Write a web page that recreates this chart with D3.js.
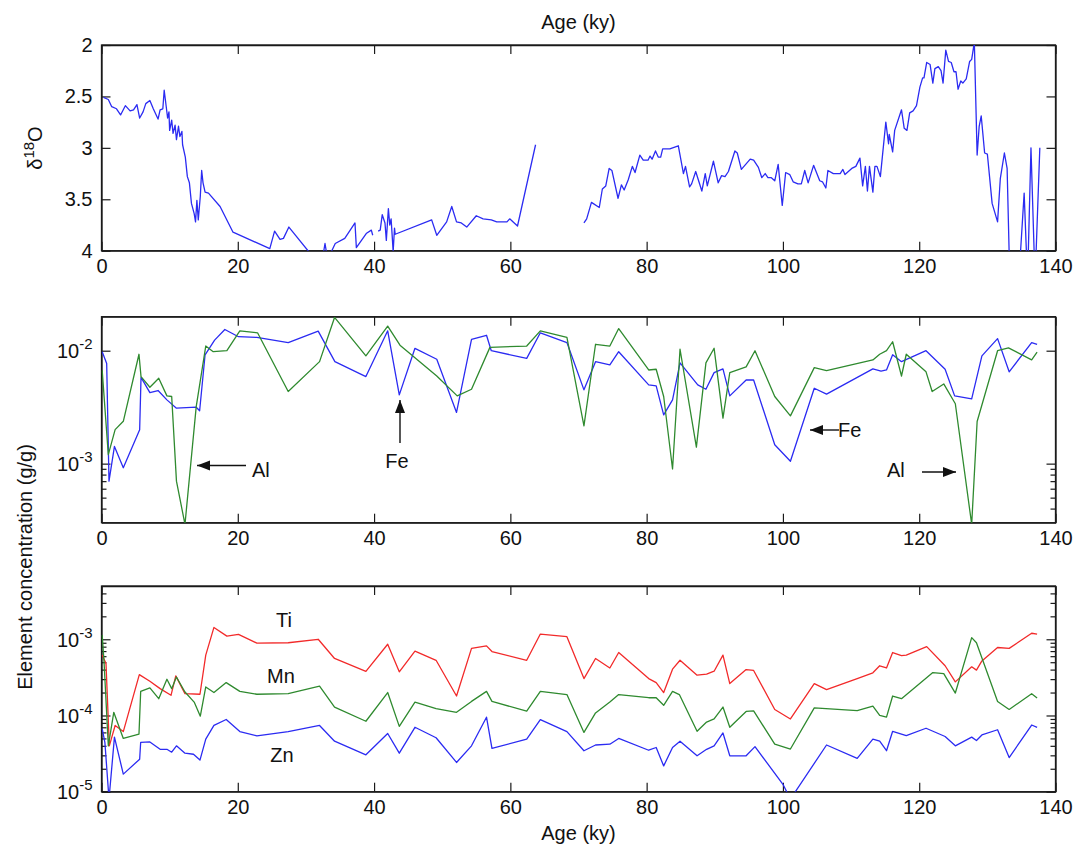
<!DOCTYPE html>
<html><head><meta charset="utf-8">
<script src="https://cdn.jsdelivr.net/npm/d3@7"></script>
<style>body{margin:0;background:#fff} text{font-family:"Liberation Sans",Arial,sans-serif}</style>
</head><body><svg id="c" width="1074" height="849"></svg>
<script>
// ---------- DATA ----------
const xTicks = [0, 20, 40, 60, 80, 100, 120, 140];
const d18OTicks = [2, 2.5, 3, 3.5, 4];
const midMajor = [1e-2, 1e-3];
const botMajor = [1e-3, 1e-4, 1e-5];

// delta 18O vs age (ky); null = gap
const d18O = [
[0.3,2.51],[1.0,2.53],[1.5,2.60],[2.2,2.62],[2.8,2.68],[3.5,2.59],[4.2,2.64],[4.7,2.63],[5.2,2.58],[5.6,2.71],
[6.1,2.65],[6.5,2.57],[7.1,2.54],[7.6,2.62],[8.3,2.72],[8.6,2.63],[9.0,2.62],[9.2,2.44],[9.5,2.60],[9.7,2.71],
[9.9,2.65],[10.0,2.83],[10.3,2.73],[10.5,2.86],[10.8,2.78],[11.0,2.92],[11.3,2.79],[11.5,2.89],[11.8,2.84],[11.9,2.97],
[12.3,3.09],[12.6,3.28],[12.9,3.34],[13.2,3.54],[13.6,3.64],[13.8,3.72],[14.0,3.51],[14.2,3.70],[14.5,3.47],[14.7,3.22],
[14.9,3.34],[15.2,3.43],[15.7,3.44],[17.4,3.57],[19.3,3.82],[24.7,3.98],[25.4,3.81],[26.2,3.89],[26.7,3.88],[27.5,3.77],
[30.3,4.0],[31.5,4.1],[32.5,4.05],[32.8,3.93],[33.1,4.05],[33.8,4.0],[34.3,3.93],[35.7,3.88],[37.2,3.73],[37.4,3.97],
[38.9,3.83],[39.6,3.80],[39.8,3.85],[40.2,null],[40.6,3.81],[40.9,3.80],[41.2,3.65],[41.6,3.73],[41.8,3.90],[42.1,3.59],
[42.3,3.75],[42.5,3.69],[42.7,3.90],[42.8,4.01],[43.0,3.78],[43.1,3.84],[48.45,3.70],[49.2,3.85],[50.65,3.72],[51.4,3.57],
[52.1,3.72],[52.8,3.73],[53.6,3.77],[55.0,3.66],[56.0,3.69],[57.2,3.70],[58.0,3.72],[59.5,3.72],[59.9,3.69],[61.05,3.76],
[63.7,2.97],[67.0,null],
[70.8,3.73],[71.2,3.69],[71.9,3.53],[73.05,3.58],[73.5,3.40],[74.0,3.37],[74.5,3.20],[74.9,3.22],[75.8,3.49],[76.3,3.36],
[76.7,3.41],[77.3,3.31],[77.9,3.18],[78.3,3.24],[79.0,3.07],[79.5,3.12],[80.2,3.12],[80.5,3.08],[80.8,3.11],[81.3,3.03],
[81.7,3.09],[82.06,3.09],[82.35,3.01],[83.4,3.01],[84.65,2.98],[85.4,3.25],[85.7,3.18],[86.3,3.38],[86.6,3.35],[87.2,3.23],
[88.1,3.42],[88.6,3.25],[88.9,3.37],[89.8,3.13],[90.5,3.34],[91.0,3.27],[91.5,3.28],[92.0,3.23],[92.95,3.03],[93.3,3.05],
[93.9,3.21],[95.2,3.11],[95.7,3.12],[96.4,3.19],[96.9,3.29],[97.4,3.25],[97.8,3.29],[98.3,3.29],[98.8,3.32],[99.3,3.16],
[99.9,3.56],[100.4,3.24],[101.0,3.26],[101.5,3.33],[102.2,3.35],[102.7,3.35],[103.2,3.22],[103.7,3.34],[104.5,3.17],[105.4,3.32],
[105.8,3.33],[106.3,3.39],[106.6,3.22],[107.4,3.25],[108.4,3.25],[108.8,3.21],[109.1,3.26],[110.1,3.20],[110.7,3.18],[111.3,3.10],
[111.7,3.37],[112.1,3.18],[112.4,3.42],[112.7,3.18],[113.2,3.43],[113.5,3.18],[113.8,3.18],[114.3,3.28],[115.1,2.75],[115.5,2.96],
[115.6,2.87],[116.1,3.04],[116.4,2.83],[117.4,2.63],[117.8,2.81],[118.2,2.83],[118.6,2.66],[119.1,2.64],[119.6,2.59],[120.1,2.41],
[120.5,2.32],[120.7,2.32],[121.1,2.17],[121.6,2.19],[122.0,2.37],[122.3,2.23],[122.8,2.21],[123.2,2.25],[123.5,2.37],[123.9,2.05],
[124.3,2.16],[124.7,2.17],[125.1,2.26],[125.4,2.26],[125.7,2.43],[126.1,2.35],[126.4,2.37],[126.9,2.33],[127.4,2.16],[127.7,2.14],
[128.0,2.01],[128.1,2.0],[128.5,3.07],[128.8,2.79],[129.1,2.69],[129.6,3.05],[130.0,3.06],[130.7,3.54],[131.5,3.72],[131.9,3.30],
[132.5,3.05],[132.9,3.20],[133.3,4.3],[134.6,4.3],[135.4,3.44],[135.9,4.3],[136.4,3.0],[137.0,4.3],[137.7,3.0]
];

// Fe (blue) and Al (green), g/g
const fe = [
[0.1,9.8e-3],[0.76,7.7e-3],[1.1,7.0e-4],[1.9,1.42e-3],[3.2,9.2e-4],[5.6,2.0e-3],[5.8,5.8e-3],[7.1,4.26e-3],[8.3,4.44e-3],[9.6,3.67e-3],
[11.0,3.1e-3],[13.9,3.16e-3],[14.4,2.94e-3],[15.2,9.2e-3],[16.6,1.24e-2],[18.1,1.54e-2],[20.1,1.33e-2],[22.8,1.31e-2],[27.4,1.18e-2],[31.8,1.49e-2],
[34.25,8.0e-3],[38.8,5.9e-3],[42.0,1.5e-2],[43.7,4.06e-3],[46.0,1.05e-2],[49.2,8.4e-3],[52.1,2.84e-3],[54.3,1.26e-2],[56.5,1.37e-2],[57.2,1.0e-2],
[62.4,8.55e-3],[64.4,1.44e-2],[68.3,1.18e-2],[70.8,4.5e-3],[72.5,8.0e-3],[74.6,7.5e-3],[75.9,9.8e-3],[80.3,4.98e-3],[81.4,4.88e-3],[82.5,2.7e-3],
[83.8,3.67e-3],[84.9,7.8e-3],[87.5,4.98e-3],[88.7,4.56e-3],[89.9,6.4e-3],[91.2,6.9e-3],[92.2,3.98e-3],[94.6,5.5e-3],[95.7,5.5e-3],[98.8,1.47e-3],
[101.1,1.05e-3],[104.6,4.65e-3],[106.4,4.12e-3],[113.2,6.9e-3],[114.4,6.6e-3],[115.2,6.75e-3],[116.1,9.2e-3],[117.4,8.0e-3],[121.0,1.0e-2],[123.8,6.85e-3],
[125.2,3.98e-3],[127.7,3.75e-3],[129.2,9.0e-3],[131.5,1.28e-2],[133.2,6.5e-3],[136.5,1.18e-2],[137.3,1.14e-2]
];
const al = [
[0.1,6.7e-3],[1.0,1.2e-3],[2.0,2.0e-3],[3.2,2.37e-3],[5.5,9.3e-3],[5.8,5.9e-3],[7.1,4.75e-3],[8.4,5.7e-3],[9.6,3.98e-3],[10.3,3.93e-3],
[11.0,7.0e-4],[12.25,2.9e-4],[13.9,3.2e-3],[15.3,1.1e-2],[16.4,9.8e-3],[18.4,1.0e-2],[20.3,1.5e-2],[22.9,1.44e-2],[27.4,4.35e-3],[32.0,8.0e-3],
[34.2,1.97e-2],[38.8,9.0e-3],[42.0,1.65e-2],[43.8,1.12e-2],[46.7,8.0e-3],[49.2,5.97e-3],[52.2,3.98e-3],[54.3,4.56e-3],[57.0,1.07e-2],[62.4,1.1e-2],
[64.4,1.5e-2],[68.3,1.31e-2],[70.8,2.16e-3],[72.5,1.14e-2],[74.6,1.1e-2],[75.9,1.57e-2],[80.3,6.75e-3],[81.4,6.85e-3],[82.5,3.93e-3],[83.8,8.97e-4],
[84.9,1.03e-2],[87.3,1.4e-3],[88.7,7.8e-3],[89.9,1.05e-2],[91.2,2.53e-3],[92.2,6.4e-3],[94.6,7.2e-3],[95.9,1.0e-2],[98.8,3.93e-3],[101.1,2.65e-3],
[104.6,7.08e-3],[106.4,6.67e-3],[113.2,8.28e-3],[114.2,9.3e-3],[115.2,1.0e-2],[116.1,1.2e-2],[117.4,5.97e-3],[118.1,9.3e-3],[121.0,6.5e-3],[121.9,4.35e-3],
[123.6,5.08e-3],[125.3,3.39e-3],[127.7,2.9e-4],[128.5,2.36e-3],[131.5,1.0e-2],[133.1,1.06e-2],[136.5,8.3e-3],[137.3,9.7e-3]
];

// Ti (red), Mn (green), Zn (blue), g/g
const ti = [
[0.1,6.2e-4],[0.66,4.8e-4],[1.15,4.0e-5],[2.0,7.4e-5],[3.2,6.15e-5],[5.55,3.44e-4],[7.1,2.81e-4],[8.6,2.25e-4],[10.2,1.84e-4],[10.9,3.31e-4],
[12.25,1.93e-4],[14.45,1.9e-4],[15.3,6.2e-4],[16.5,1.43e-3],[18.4,1.1e-3],[20.1,1.16e-3],[22.8,8.9e-4],[27.4,9.0e-4],[31.8,1.0e-3],[34.2,5.6e-4],
[38.8,3.8e-4],[42.0,8.6e-4],[43.7,3.74e-4],[46.0,7.0e-4],[49.1,5.3e-4],[52.1,1.8e-4],[54.3,7.6e-4],[56.5,8.2e-4],[57.3,6.9e-4],[62.4,5.3e-4],
[64.4,1.17e-3],[68.3,1.08e-3],[70.8,3.05e-4],[72.5,5.6e-4],[74.6,4.2e-4],[75.9,6.7e-4],[80.3,3.05e-4],[81.4,2.7e-4],[82.5,2.0e-4],[83.8,4.05e-4],
[84.9,5.3e-4],[87.4,3.38e-4],[88.8,3.48e-4],[89.9,3.81e-4],[91.2,6.2e-4],[92.2,2.62e-4],[94.6,4.0e-4],[95.7,3.9e-4],[98.8,1.2e-4],[101.1,9.0e-5],
[104.6,2.62e-4],[106.4,2.18e-4],[110.9,3.05e-4],[113.2,3.63e-4],[114.2,4.49e-4],[115.2,4.2e-4],[116.1,6.7e-4],[117.4,6.1e-4],[118.1,6.2e-4],[121.1,8.0e-4],
[123.8,4.49e-4],[125.3,2.76e-4],[127.7,4.35e-4],[128.4,3.94e-4],[129.2,5.2e-4],[131.5,7.8e-4],[133.2,7.6e-4],[136.5,1.2e-3],[137.3,1.17e-3]
];
const mn = [
[0.1,1.14e-3],[0.37,5.1e-4],[1.0,4.0e-5],[1.8,1.1e-4],[3.2,5.0e-5],[5.5,5.7e-5],[5.75,2.07e-4],[7.1,2.3e-4],[8.4,1.66e-4],[9.6,2.99e-4],
[10.3,2.25e-4],[11.0,3.2e-4],[12.25,2.03e-4],[13.6,1.5e-4],[14.5,9.8e-5],[15.3,2.37e-4],[16.5,2.0e-4],[18.3,2.7e-4],[20.3,2.07e-4],[22.8,1.9e-4],
[27.4,1.93e-4],[32.0,2.42e-4],[34.2,1.29e-4],[38.8,8.4e-5],[42.0,2.0e-4],[43.7,7.2e-5],[46.0,1.5e-4],[49.1,1.23e-4],[52.1,1.1e-4],[54.3,1.53e-4],
[56.5,2.07e-4],[57.3,1.53e-4],[62.4,1.14e-4],[64.4,2.07e-4],[68.3,1.88e-4],[70.8,6.0e-5],[72.5,1.08e-4],[74.6,1.5e-4],[75.9,1.88e-4],[80.3,1.71e-4],
[81.4,1.71e-4],[82.5,1.36e-4],[83.8,2.07e-4],[84.8,1.88e-4],[87.4,6.2e-5],[88.8,8.2e-5],[89.9,9.0e-5],[91.2,1.29e-4],[92.2,7.0e-5],[94.6,1.13e-4],
[95.7,1.15e-4],[98.8,4.2e-5],[101.1,3.63e-5],[104.6,1.26e-4],[110.9,1.16e-4],[113.2,1.33e-4],[114.2,1.0e-4],[115.2,9.5e-5],[116.1,1.8e-4],[117.4,1.66e-4],
[122.0,3.66e-4],[123.6,3.55e-4],[125.3,1.97e-4],[127.7,1.05e-3],[128.4,9.0e-4],[131.5,1.53e-4],[133.2,1.2e-4],[136.5,1.93e-4],[137.3,1.7e-4]
];
const zn = [
[0.1,6.7e-5],[0.5,4.4e-5],[1.1,8e-6],[1.9,5.2e-5],[3.2,1.7e-5],[5.6,2.67e-5],[5.75,4.45e-5],[7.1,4.5e-5],[8.6,3.6e-5],[9.6,3.6e-5],
[10.3,3.3e-5],[11.0,4.0e-5],[12.25,3.2e-5],[13.5,3.1e-5],[14.45,2.6e-5],[15.3,4.9e-5],[16.5,7.4e-5],[18.3,8.85e-5],[20.3,6.15e-5],[22.8,5.4e-5],
[27.4,6.15e-5],[32.0,7.4e-5],[34.2,4.6e-5],[38.8,3.05e-5],[42.0,5.8e-5],[43.7,3.2e-5],[46.0,7.0e-5],[49.1,5.1e-5],[52.1,2.42e-5],[54.3,4.0e-5],
[56.5,9.5e-5],[57.3,3.7e-5],[62.4,4.9e-5],[64.4,8.8e-5],[68.3,6.15e-5],[70.8,3.45e-5],[72.5,4.1e-5],[74.6,4.2e-5],[75.9,5.0e-5],[80.3,3.5e-5],
[81.4,3.8e-5],[82.5,2.18e-5],[83.8,3.8e-5],[84.9,4.6e-5],[87.4,2.96e-5],[88.8,3.6e-5],[89.9,4.0e-5],[91.2,5.9e-5],[92.2,2.96e-5],[94.6,2.96e-5],
[95.9,3.9e-5],[100.0,1.25e-5],[101.1,8e-6],[106.4,4.1e-5],[110.9,2.73e-5],[113.2,4.9e-5],[114.2,4.6e-5],[115.2,3.45e-5],[116.1,6.2e-5],[118.1,5.45e-5],
[121.0,6.8e-5],[123.8,5.3e-5],[125.3,4.0e-5],[127.7,5.2e-5],[128.4,4.7e-5],[129.2,5.55e-5],[131.5,6.5e-5],[133.2,2.8e-5],[136.5,7.5e-5],[137.3,7.0e-5]
];

// ---------- DRAW ----------
const BLUE = "#2b2bf2", GREEN = "#2f8a2f", RED = "#f22a2a", AXC = "#1a1a1a";
const FS = 20;
const svg = d3.select("#c");
const x = d3.scaleLinear([0, 140], [101.5, 1055.5]);

const yTop = d3.scaleLinear([2, 4], [45, 250.7]);
const yMid = d3.scaleLog([3e-4, 2e-2], [522.7, 316.7]);
const yBot = d3.scaleLog([1e-5, 5e-3], [791.7, 586]);

function minorsFor(dom, onlyRange) {
  const out = [];
  for (let e = -6; e <= -1; e++) for (let m = 2; m <= 9; m++) {
    const v = m * Math.pow(10, e);
    const lo = onlyRange ? onlyRange[0] : dom[0], hi = onlyRange ? onlyRange[1] : dom[1];
    if (v > lo * 1.0001 && v < hi * 0.9999) out.push(v);
  }
  return out;
}

function styleAxis(g) {
  g.attr("font-family", null).attr("font-size", null);
  g.selectAll("path.domain").attr("stroke", AXC).attr("stroke-width", 1.3);
  g.selectAll(".tick line").attr("stroke", AXC).attr("stroke-width", 1.2);
  g.selectAll("text").attr("font-size", FS).attr("fill", "#111");
}

function panel(y, top, bottom, id, opts) {
  const g = svg.append("g");
  // clip
  svg.append("clipPath").attr("id", id).append("rect")
    .attr("x", x(0)).attr("y", top).attr("width", x(140) - x(0)).attr("height", bottom - top);
  // x axes
  const xb = g.append("g").attr("transform", `translate(0,${bottom})`)
    .call(d3.axisBottom(x).tickValues(xTicks).tickSizeInner(-9).tickSizeOuter(0).tickPadding(8));
  styleAxis(xb);
  const xt = g.append("g").attr("transform", `translate(0,${top})`)
    .call(d3.axisTop(x).tickValues(xTicks).tickSizeInner(-9).tickSizeOuter(0).tickFormat(""));
  styleAxis(xt);
  // y axes
  const yl = g.append("g").attr("transform", `translate(${x(0)},0)`)
    .call(d3.axisLeft(y).tickValues(opts.major).tickSizeInner(-9).tickSizeOuter(0).tickPadding(9).tickFormat(opts.fmt || null));
  styleAxis(yl);
  const yr = g.append("g").attr("transform", `translate(${x(140)},0)`)
    .call(d3.axisRight(y).tickValues(opts.major).tickSizeInner(-9).tickSizeOuter(0).tickFormat(""));
  styleAxis(yr);
  if (opts.minor) {
    [[d3.axisLeft, x(0)], [d3.axisRight, x(140)]].forEach(([ax, px]) => {
      const m = g.append("g").attr("transform", `translate(${px},0)`)
        .call(ax(y).tickValues(opts.minor).tickSizeInner(-5).tickSizeOuter(0).tickFormat(""));
      styleAxis(m);
      m.select("path.domain").remove();
    });
  }
  if (opts.log) {
    yl.selectAll(".tick text").each(function(d) {
      const t = d3.select(this);
      const e = Math.round(Math.log10(d));
      t.text(null).attr("dy", "0.36em");
      t.append("tspan").text("10");
      t.append("tspan").attr("font-size", 15).attr("dy", "-0.62em").text(String(e));
    });
  }
  g.append("rect").attr("x", x(0)).attr("y", top).attr("width", x(140) - x(0)).attr("height", bottom - top)
    .attr("fill", "none").attr("stroke", AXC).attr("stroke-width", 1.3);
  return g;
}

function drawLine(data, y, color, clip) {
  svg.append("path").datum(data)
    .attr("clip-path", `url(#${clip})`)
    .attr("fill", "none").attr("stroke", color).attr("stroke-width", 1.3).attr("stroke-linejoin", "round")
    .attr("d", d3.line().defined(d => d[1] != null).x(d => x(d[0])).y(d => y(d[1])));
}

// top panel
panel(yTop, 45, 250.7, "clipTop", { major: d18OTicks, fmt: d => String(d) });
drawLine(d18O, yTop, BLUE, "clipTop");

// middle panel
panel(yMid, 316.7, 522.7, "clipMid", { major: midMajor, log: true, minor: minorsFor(null, [3e-4, 1e-3]) });
drawLine(fe, yMid, BLUE, "clipMid");
drawLine(al, yMid, GREEN, "clipMid");

// bottom panel
panel(yBot, 586, 791.7, "clipBot", { major: botMajor, log: true, minor: minorsFor([1e-5, 5e-3]) });
drawLine(ti, yBot, RED, "clipBot");
drawLine(mn, yBot, GREEN, "clipBot");
drawLine(zn, yBot, BLUE, "clipBot");

// axis titles
const txt = (xx, yy, s, anchor) => svg.append("text").attr("x", xx).attr("y", yy).attr("font-size", FS)
  .attr("fill", "#111").attr("text-anchor", anchor || "middle").text(s);
txt(578.5, 29, "Age (ky)");
txt(578.5, 840, "Age (ky)");

const dl = svg.append("text").attr("transform", "translate(42,148) rotate(-90)").attr("font-size", FS)
  .attr("fill", "#111").attr("text-anchor", "middle");
dl.append("tspan").text("δ");
dl.append("tspan").attr("font-size", 15).attr("dy", "-0.55em").text("18");
dl.append("tspan").attr("dy", "0.42em").text("O");

svg.append("text").attr("transform", "translate(32,567) rotate(-90)").attr("font-size", FS)
  .attr("fill", "#111").attr("text-anchor", "middle").text("Element concentration (g/g)");

// annotations
function arrow(x1, y1, x2, y2) {
  svg.append("line").attr("x1", x1).attr("y1", y1).attr("x2", x2).attr("y2", y2)
    .attr("stroke", "#111").attr("stroke-width", 1.4);
  const a = Math.atan2(y2 - y1, x2 - x1), L = 13, W = 5;
  const bx = x2 - L * Math.cos(a), by = y2 - L * Math.sin(a);
  const px = -Math.sin(a) * W, py = Math.cos(a) * W;
  svg.append("path").attr("d", `M${x2},${y2}L${bx + px},${by + py}L${bx - px},${by - py}Z`).attr("fill", "#111");
}
arrow(246, 465.5, 197, 465.5);
txt(252, 476.5, "Al", "start");
arrow(400, 443, 400, 400);
txt(397, 468, "Fe");
arrow(839, 430, 810, 430);
txt(838, 437, "Fe", "start");
txt(887, 477, "Al", "start");
arrow(922, 472, 956, 472);

txt(284, 627, "Ti");
txt(281, 683, "Mn");
txt(282, 762, "Zn");
</script></body></html>
